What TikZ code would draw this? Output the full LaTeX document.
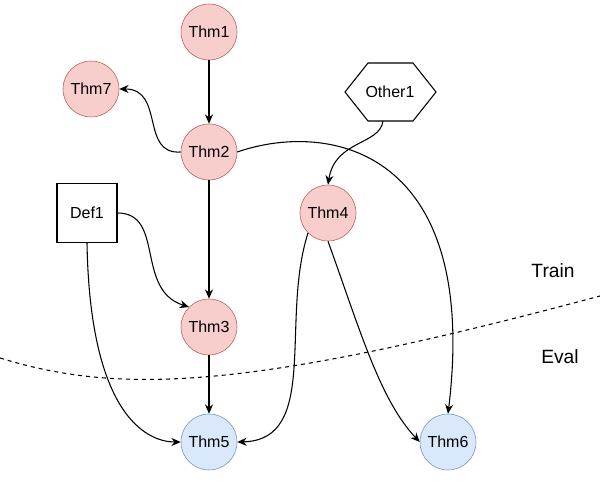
\documentclass[tikz,border=0pt]{standalone}
\usepackage{fontspec}
\setmainfont{Liberation Sans}
\usetikzlibrary{shapes,arrows.meta}
\definecolor{redfill}{HTML}{F8CECC}
\definecolor{redline}{HTML}{B85450}
\definecolor{bluefill}{HTML}{DAE8FC}
\definecolor{blueline}{HTML}{6C8EBF}
\begin{document}
\begin{tikzpicture}[x=0.75pt,y=-0.75pt,font=\large]
      \tikzstyle{train}=[circle,draw=redline,fill=redfill,minimum size=42pt,inner sep=0pt]
      \tikzstyle{eval}=[circle,draw=blueline,fill=bluefill,minimum size=42pt,inner sep=0pt]
      \tikzstyle{dep}=[-{Stealth[length=7pt,width=6pt]},line width=0.8pt]
      \useasboundingbox (0,0) rectangle (600,481);
      \node[train] (t1) at (209,32) {Thm1};
      \node[train] (t7) at (91,89) {Thm7};
      \node[train] (t2) at (209,152) {Thm2};
      \node[train] (t4) at (328,213) {Thm4};
      \node[train] (t3) at (209,327) {Thm3};
      \node[eval] (t5) at (209,442) {Thm5};
      \node[eval] (t6) at (448,442) {Thm6};
      \draw[line width=0.8pt] (345,92) -- (368,63) -- (413,63) -- (436,92) -- (413,121) -- (368,121) -- cycle;
      \node (o1) at (390,92) {Other1};
      \coordinate (o1b) at (383,121);
      \node[draw,line width=0.8pt,minimum width=45pt,minimum height=44pt,fill=white] (d1) at (87,213) {Def1};
      \node[font=\Large] (train) at (553,271) {Train};
      \node[font=\Large] (eval) at (560,357) {Eval};
      \draw[line width=0.8pt,dashed] (0,358) .. controls (120,395) and (250,390) .. (600,296);
      \draw[dep] (t1) -- (t2);
      \draw[dep] (t2) -- (t3);
      \draw[dep] (t3) -- (t5);
      \draw[dep] (t2.west) .. controls (140,155) and (165,89) .. (t7.east);
      \draw[dep] (t2.east) .. controls (330,120) and (480,150) .. (t6.north);
      \draw[dep] (o1b) .. controls (380,145) and (335,140) .. (t4.north);
      \draw[dep] (d1.east) .. controls (165,213) and (135,290) .. (t3.north west);
      \draw[dep] (d1.south) .. controls (90,420) and (150,442) .. (t5.west);
      \draw[dep] (t4.south west) .. controls (280,320) and (320,440) .. (t5.east);
      \draw[dep] (t4.south) .. controls (360,330) and (380,400) .. (t6.west);
\end{tikzpicture}
\end{document}
